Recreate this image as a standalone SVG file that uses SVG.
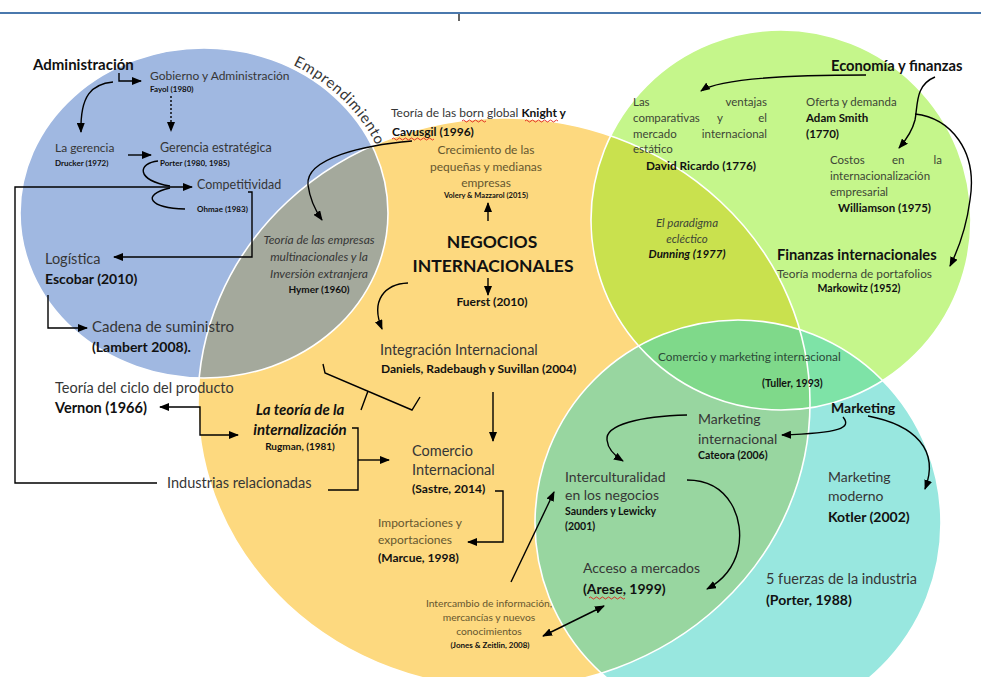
<svg xmlns="http://www.w3.org/2000/svg" width="981" height="677" viewBox="0 0 981 677">
<style>
.t{font-family:Lato,Carlito,"Liberation Sans",sans-serif;fill:#363636}
.b{font-weight:bold;fill:#111}
.i{font-style:italic}
.c{text-anchor:middle}
.e{text-anchor:end}
.br{fill:#66572f}
.gr{fill:#3d4636}
.mk{fill:#2c4a38}
.ln{fill:none;stroke:#000;stroke-width:1.4}
.ar{marker-end:url(#ah)}
.sq{fill:none;stroke:#e0201c;stroke-width:0.9}
.edge{fill:none;stroke:#fff;stroke-width:1.6}
</style>
<defs>
<marker id="ah" markerUnits="userSpaceOnUse" markerWidth="10" markerHeight="8" refX="9" refY="4" orient="auto-start-reverse"><path d="M0,0 L10,4 L0,8 z" fill="#000"/></marker>
<clipPath id="cBlue"><ellipse cx="204" cy="213" rx="184" ry="165"/></clipPath>
<clipPath id="cGreen"><circle cx="781" cy="220" r="190"/></clipPath>
<clipPath id="cCyan"><circle cx="738" cy="523" r="203"/></clipPath>
<path id="arcE" d="M293,65 A188 169 0 0 1 386,170"/>
</defs>
<rect width="981" height="677" fill="#fff"/>
<line x1="0" y1="13" x2="981" y2="13" stroke="#4a78ad" stroke-width="2"/>
<line x1="459" y1="14" x2="459" y2="21" stroke="#333" stroke-width="1.5"/>

<g id="regions">
<ellipse cx="504" cy="403" rx="306" ry="285" fill="#fdd97f"/>
<ellipse cx="204" cy="213" rx="184" ry="165" fill="#a0b8e1"/>
<ellipse cx="504" cy="403" rx="306" ry="285" fill="#a4a99c" clip-path="url(#cBlue)"/>
<circle cx="781" cy="220" r="190" fill="#c5f68b"/>
<ellipse cx="504" cy="403" rx="306" ry="285" fill="#c9e14e" clip-path="url(#cGreen)"/>
<circle cx="738" cy="523" r="203" fill="#98e7df"/>
<ellipse cx="504" cy="403" rx="306" ry="285" fill="#98d6a0" clip-path="url(#cCyan)"/>
<circle cx="781" cy="220" r="190" fill="#7ee3a7" clip-path="url(#cCyan)"/>
<g clip-path="url(#cCyan)"><ellipse cx="504" cy="403" rx="306" ry="285" fill="#7fd98a" clip-path="url(#cGreen)"/></g>
<ellipse class="edge" cx="504" cy="403" rx="306" ry="285"/>
<ellipse class="edge" cx="204" cy="213" rx="184" ry="165"/>
<circle class="edge" cx="781" cy="220" r="190"/>
<circle class="edge" cx="738" cy="523" r="203"/>
</g>

<g id="connectors">
<path class="ln ar" d="M119,73 V81 H141"/>
<path class="ln ar" d="M113,82 C92,84 80,95 81,132"/>
<path class="ln ar" d="M171,96 V131" stroke-dasharray="2,2"/>
<path class="ln ar" d="M128,155 H151"/>
<path class="ln" d="M158,161 C138,163 135,180 170,186"/>
<path class="ln" d="M185,209 C150,208 140,195 170,188"/>
<path class="ln ar" d="M157,483 H15 V187 H192"/>
<path class="ln ar" d="M248,192 H252 V257 H114"/>
<path class="ln ar" d="M48,295 V328 H87"/>
<path class="ln" d="M160,407 H200 V435 H238" marker-start="url(#ah)" marker-end="url(#ah)"/>
<path class="ln" d="M352,428 H358 V490 H328"/>
<path class="ln ar" d="M358,460 H389"/>
<path class="ln" d="M323,364 L325,373 L412,410 L420,397 M368,391 L361,410"/>
<path class="ln ar" d="M412,141 C365,145 305,158 308,185 C310,200 315,210 322,220"/>
<path class="ln ar" d="M488,221 V203"/>
<path class="ln ar" d="M488,278 V295"/>
<path class="ln ar" d="M408,283 C385,284 370,300 382,329"/>
<path class="ln ar" d="M493,392 V441"/>
<path class="ln ar" d="M495,491 H503 V542 H468"/>
<path class="ln ar" d="M511,582 L554,492"/>
<path class="ln" d="M543,636 L604,606" marker-start="url(#ah)" marker-end="url(#ah)"/>
<path class="ln ar" d="M866,75 C800,75 720,78 701,91"/>
<path class="ln ar" d="M935,77 C915,85 918,105 915,120 C912,132 906,140 899,148"/>
<path class="ln ar" d="M915,114 C950,118 978,150 970,200 C966,230 958,250 950,266"/>
<path class="ln ar" d="M843,417 C852,428 840,433 782,435"/>
<path class="ln ar" d="M687,415 C640,416 605,425 607,440 C608,450 615,456 623,461"/>
<path class="ln ar" d="M868,416 C915,425 940,450 925,489"/>
<path class="ln ar" d="M687,480 C730,480 745,520 738,550 C733,570 720,582 707,589"/>
</g>

<g id="n-admin"><text class="t b" x="33" y="70" font-size="15">Administración</text></g>
<g id="n-emprend"><text class="t" font-size="15" fill="#1e1e1e" letter-spacing="0.7"><textPath href="#arcE">Emprendimiento</textPath></text></g>
<g id="n-gobierno"><text class="t" x="150" y="80" font-size="12">Gobierno y Administración</text><text class="t b" x="150" y="92" font-size="8">Fayol (1980)</text></g>
<g id="n-gerencia"><text class="t" x="55" y="152" font-size="12">La gerencia</text><text class="t b" x="55" y="166" font-size="8">Drucker (1972)</text></g>
<g id="n-gerest"><text class="t" x="160" y="152" font-size="12.5">Gerencia estratégica</text><text class="t b" x="160" y="166" font-size="8">Porter (1980, 1985)</text></g>
<g id="n-compet"><text class="t" x="197" y="189" font-size="12.5">Competitividad</text><text class="t b" x="197" y="212" font-size="8">Ohmae (1983)</text></g>
<g id="n-logistica"><text class="t" x="45" y="264" font-size="14.5">Logística</text><text class="t b" x="45" y="284" font-size="14">Escobar (2010)</text></g>
<g id="n-cadena"><text class="t" x="92" y="332" font-size="15">Cadena de suministro</text><text class="t b" x="92" y="352" font-size="14">(Lambert 2008).</text></g>
<g id="n-ciclo"><text class="t" x="55" y="393" font-size="14.5">Teoría del ciclo del producto</text><text class="t b" x="55" y="413" font-size="14.5">Vernon (1966)</text></g>
<g id="n-industrias"><text class="t" x="167" y="488" font-size="14.5">Industrias relacionadas</text></g>
<g id="n-multinac"><text class="t i c" x="319" y="244" font-size="12">Teoría de las empresas</text><text class="t i c" x="319" y="261" font-size="12">multinacionales y la</text><text class="t i c" x="319" y="278" font-size="12">Inversión extranjera</text><text class="t b c" x="319" y="293" font-size="10">Hymer (1960)</text></g>
<g id="n-born"><text class="t" x="391" y="117" font-size="12">Teoría de las born global <tspan class="b">Knight y</tspan></text><text class="t b" x="392" y="136" font-size="12">Cavusgil (1996)</text>
<path class="sq" d="M462,121 q1.5,-2 3,0 t3,0 t3,0 t3,0 t3,0 t3,0 t3,0 t3,0 M525,121 q1.5,-2 3,0 t3,0 t3,0 t3,0 t3,0 t3,0 t3,0 t3,0 t3,0 t3,0 t3,0 M392,139 q1.5,-2 3,0 t3,0 t3,0 t3,0 t3,0 t3,0 t3,0 t3,0 t3,0 t3,0 t3,0 t3,0 t3,0 t3,0"/></g>
<g id="n-pymes"><text class="t c br" x="486" y="154" font-size="12">Crecimiento de las</text><text class="t c br" x="486" y="171" font-size="12">pequeñas y medianas</text><text class="t c br" x="486" y="187" font-size="12">empresas</text><text class="t b c" x="486" y="198" font-size="7.5">Volery &amp; Mazzarol (2015)</text></g>
<g id="n-negocios"><text class="t b c" x="492" y="248" font-size="17.5">NEGOCIOS</text><text class="t b c" x="493" y="272" font-size="17.5">INTERNACIONALES</text></g>
<g id="n-fuerst"><text class="t b c" x="492" y="306" font-size="12">Fuerst (2010)</text></g>
<g id="n-integracion"><text class="t" x="380" y="355" font-size="14.5">Integración Internacional</text><text class="t b" x="381" y="373" font-size="12">Daniels, Radebaugh y Suvillan (2004)</text></g>
<g id="n-internal"><text class="t b i c" x="300" y="415" font-size="15">La teoría de la</text><text class="t b i c" x="300" y="435" font-size="15">internalización</text><text class="t b c" x="300" y="450" font-size="10">Rugman, (1981)</text></g>
<g id="n-comercio"><text class="t" x="412" y="456" font-size="14.5">Comercio</text><text class="t" x="412" y="475" font-size="14.5">Internacional</text><text class="t b" x="412" y="493" font-size="12">(Sastre, 2014)</text></g>
<g id="n-importa"><text class="t br" x="378" y="527" font-size="12">Importaciones y</text><text class="t br" x="378" y="544" font-size="12">exportaciones</text><text class="t b" x="378" y="562" font-size="12">(Marcue, 1998)</text></g>
<g id="n-intercambio"><text class="t c br" x="489" y="607" font-size="10.3">Intercambio de información,</text><text class="t c br" x="489" y="621" font-size="10.3">mercancías y nuevos</text><text class="t c br" x="489" y="635" font-size="10.3">conocimientos</text><text class="t b c" x="490" y="648" font-size="8">(Jones &amp; Zeitlin, 2008)</text></g>
<g id="n-economia"><text class="t b" x="831" y="71" font-size="14.7">Economía y finanzas</text></g>
<g id="n-ricardo"><text class="t gr" font-size="11.5"><tspan x="633" y="106">Las</tspan><tspan x="767" y="106" text-anchor="end">ventajas</tspan><tspan x="633" y="122">comparativas</tspan><tspan x="717" y="122">y</tspan><tspan x="767" y="122" text-anchor="end">el</tspan><tspan x="633" y="138">mercado</tspan><tspan x="767" y="138" text-anchor="end">internacional</tspan><tspan x="633" y="153">estático</tspan></text><text class="t b" x="646" y="170" font-size="11.8">David Ricardo (1776)</text></g>
<g id="n-smith"><text class="t gr" x="806" y="106" font-size="11.5">Oferta y demanda</text><text class="t b" x="806" y="122" font-size="11.5">Adam Smith</text><text class="t b" x="806" y="138" font-size="11.5">(1770)</text></g>
<g id="n-costos"><text class="t gr" font-size="11.5"><tspan x="830" y="164">Costos</tspan><tspan x="892" y="164">en</tspan><tspan x="942" y="164" text-anchor="end">la</tspan><tspan x="830" y="180">internacionalización</tspan><tspan x="830" y="196">empresarial</tspan></text><text class="t b" x="838" y="212" font-size="11.5">Williamson (1975)</text></g>
<g id="n-dunning"><text class="t i c gr" x="687" y="227" font-size="11.5">El paradigma</text><text class="t i c gr" x="687" y="243" font-size="11.5">ecléctico</text><text class="t b i c" x="687" y="258" font-size="11.5">Dunning (1977)</text></g>
<g id="n-finanzas"><text class="t b" x="777" y="260" font-size="14.7">Finanzas internacionales</text><text class="t gr" x="777" y="278" font-size="11.8">Teoría moderna de portafolios</text><text class="t b c" x="859" y="292" font-size="10.5">Markowitz (1952)</text></g>
<g id="n-commkt"><text class="t mk" x="658" y="361" font-size="11.8">Comercio y marketing internacional</text><text class="t b" x="762" y="387" font-size="10.5">(Tuller, 1993)</text></g>
<g id="n-marketing"><text class="t b" x="831" y="413" font-size="14">Marketing</text></g>
<g id="n-mktint"><text class="t" x="698" y="424" font-size="14">Marketing</text><text class="t" x="698" y="444" font-size="14">internacional</text><text class="t b" x="698" y="459" font-size="10.5">Cateora (2006)</text></g>
<g id="n-intercult"><text class="t" x="565" y="482" font-size="14">Interculturalidad</text><text class="t" x="565" y="500" font-size="14">en los negocios</text><text class="t b" x="565" y="515" font-size="10.5">Saunders y Lewicky</text><text class="t b" x="565" y="530" font-size="10.5">(2001)</text></g>
<g id="n-acceso"><text class="t" x="583" y="573" font-size="14">Acceso a mercados</text><text class="t b" x="583" y="594" font-size="14">(Arese, 1999)</text><path class="sq" d="M589,598 q1.5,-2 3,0 t3,0 t3,0 t3,0 t3,0 t3,0 t3,0 t3,0 t3,0 t3,0 t3,0 t3,0"/></g>
<g id="n-mktmod"><text class="t" x="828" y="482" font-size="14">Marketing</text><text class="t" x="828" y="501" font-size="14">moderno</text><text class="t b" x="828" y="522" font-size="14">Kotler (2002)</text></g>
<g id="n-fuerzas"><text class="t" x="766" y="584" font-size="14.5">5 fuerzas de la industria</text><text class="t b" x="766" y="605" font-size="14">(Porter, 1988)</text></g>
</svg>
